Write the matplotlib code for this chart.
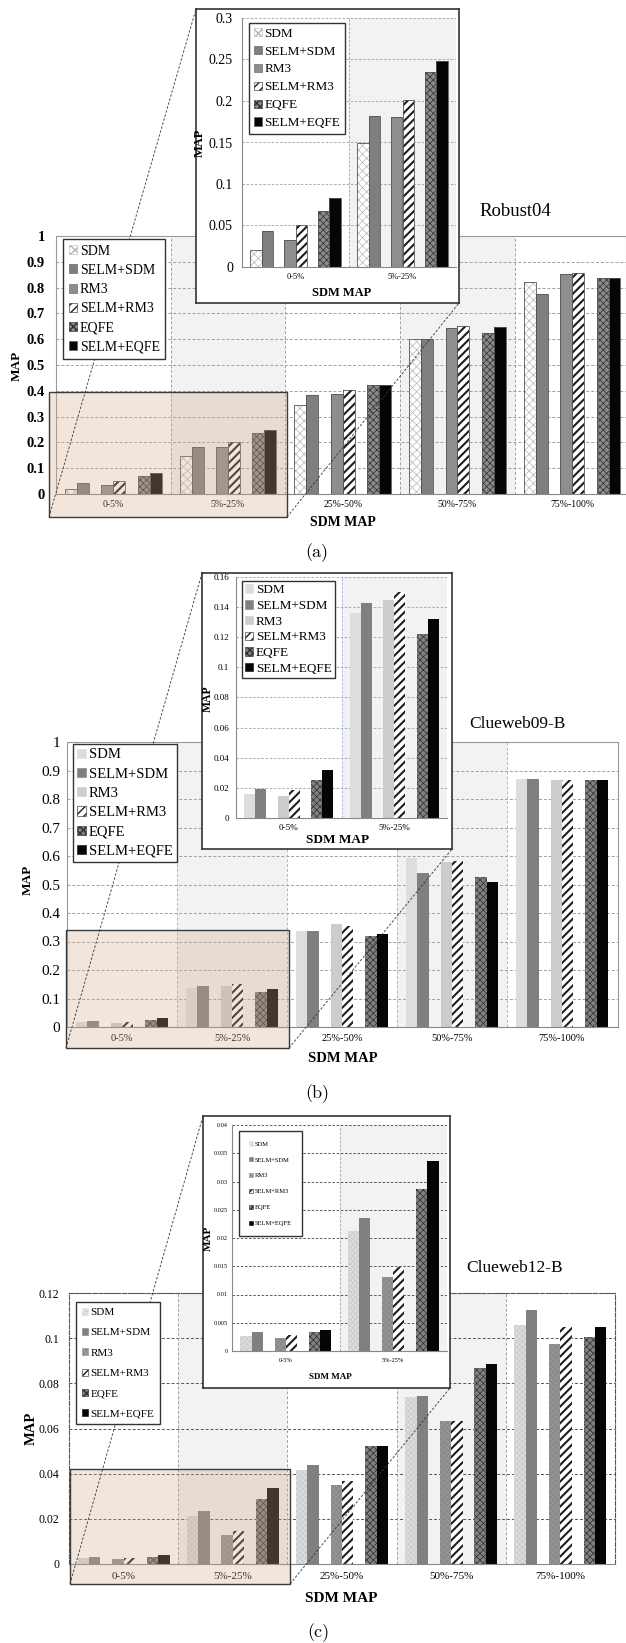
import numpy as np
import matplotlib
matplotlib.use("Agg")
import matplotlib.pyplot as plt
from matplotlib.patches import Patch, Rectangle
from matplotlib.lines import Line2D

plt.rcParams['font.family'] = ['Liberation Serif', 'DejaVu Serif']
plt.rcParams['hatch.linewidth'] = 1.0

# --- data (MAP per SDM-MAP bucket) ---
series = ["SDM", "SELM+SDM", "RM3", "SELM+RM3", "EQFE", "SELM+EQFE"]
groups = ["0-5%", "5%-25%", "25%-50%", "50%-75%", "75%-100%"]

robust_sdm = [0.021, 0.149, 0.346, 0.601, 0.821]
robust_selm_sdm = [0.043, 0.182, 0.385, 0.601, 0.774]
robust_rm3 = [0.033, 0.181, 0.389, 0.643, 0.852]
robust_selm_rm3 = [0.050, 0.201, 0.404, 0.650, 0.855]
robust_eqfe = [0.068, 0.235, 0.423, 0.625, 0.836]
robust_selm_eqfe = [0.083, 0.248, 0.421, 0.647, 0.836]

cw09_sdm = [0.0159, 0.136, 0.336, 0.593, 0.871]
cw09_selm_sdm = [0.0195, 0.1427, 0.336, 0.540, 0.871]
cw09_rm3 = [0.0147, 0.145, 0.361, 0.578, 0.868]
cw09_selm_rm3 = [0.0183, 0.150, 0.356, 0.583, 0.868]
cw09_eqfe = [0.0254, 0.122, 0.321, 0.526, 0.868]
cw09_selm_eqfe = [0.0316, 0.132, 0.325, 0.510, 0.868]

cw12_sdm = [0.00264, 0.02126, 0.0418, 0.0738, 0.1057]
cw12_selm_sdm = [0.00328, 0.0235, 0.0440, 0.0745, 0.1126]
cw12_rm3 = [0.00223, 0.01306, 0.0348, 0.0632, 0.0976]
cw12_selm_rm3 = [0.00281, 0.01482, 0.0366, 0.0632, 0.1048]
cw12_eqfe = [0.00328, 0.0287, 0.0524, 0.0866, 0.1005]
cw12_selm_eqfe = [0.0038, 0.03356, 0.0524, 0.0886, 0.1049]

robust_yticks = [0, 0.1, 0.2, 0.3, 0.4, 0.5, 0.6, 0.7, 0.8, 0.9, 1]
robust_inset_yticks = [0, 0.05, 0.1, 0.15, 0.2, 0.25, 0.3]
cw09_yticks = [0, 0.1, 0.2, 0.3, 0.4, 0.5, 0.6, 0.7, 0.8, 0.9, 1]
cw09_inset_yticks = [0, 0.02, 0.04, 0.06, 0.08, 0.1, 0.12, 0.14, 0.16]
cw12_yticks = [0, 0.02, 0.04, 0.06, 0.08, 0.1, 0.12]
cw12_inset_yticks = [0, 0.005, 0.01, 0.015, 0.02, 0.025, 0.03, 0.035, 0.04]

# --- layout helpers (pixel coords, origin top-left) ---
W, H = 626, 1643
fig = plt.figure(figsize=(W / 100, H / 100), dpi=100)


def frect(l, t, r, b):
    return [l / W, 1 - b / H, (r - l) / W, (b - t) / H]


def fpt(x, y):
    return (x / W, 1 - y / H)


def ftext(x, y, s, **kw):
    fig.text(x / W, 1 - y / H, s, ha='center', va='center', **kw)


OFFSETS = [-0.369, -0.265, -0.052, 0.052, 0.265, 0.369]
BAR_W = 0.104
DASH = (0, (3, 2))

SELM_RM3 = dict(fc='white', hatch='////', hc='#1e1e1e', hlw=1.5)
STY_A = [dict(fc='white', hatch='xxxx', hc='#b5b5b5', hlw=0.5),
         dict(fc='#7f7f7f'),
         dict(fc='#8e8e8e'),
         SELM_RM3,
         dict(fc='#8a8a8a', hatch='xxxxx', hc='#2e2e2e', hlw=0.5),
         dict(fc='#050505')]
STY_B = [dict(fc='#dddddd'),
         dict(fc='#808080'),
         dict(fc='#cccccc'),
         SELM_RM3,
         dict(fc='#808080', hatch='xxxxx', hc='#2e2e2e', hlw=0.5),
         dict(fc='#050505')]
STY_C = [dict(fc='#cfcfcf', hatch='xxxxxx', hc='#e6e6e6', hlw=0.4),
         dict(fc='#808080'),
         dict(fc='#8a8a8a', hatch='xxxxxx', hc='#9c9c9c', hlw=0.4),
         SELM_RM3,
         dict(fc='#808080', hatch='xxxxx', hc='#2e2e2e', hlw=0.5),
         dict(fc='#050505')]


def draw_bars(ax, vals, styles, n, edge):
    x = np.arange(n) + 0.5
    for k, (v, st) in enumerate(zip(vals, styles)):
        pos = x + OFFSETS[k]
        h = v[:n]
        ax.bar(pos, h, BAR_W, color=st['fc'], linewidth=0, zorder=2)
        if 'hatch' in st:
            with plt.rc_context({'hatch.linewidth': st['hlw']}):
                bars = ax.bar(pos, h, BAR_W, color='none', edgecolor=st['hc'],
                              hatch=st['hatch'], linewidth=0, zorder=2.1)
            for b in bars:
                if hasattr(b, 'set_hatch_linewidth'):
                    b.set_hatch_linewidth(st['hlw'])
        if edge:
            ax.bar(pos, h, BAR_W, color='none', edgecolor=edge, linewidth=0.6, zorder=2.2)


def fmt(v):
    return f"{round(v, 4):g}"


def legend(ax, styles, edge, x, y, fs, ls, bp):
    handles = []
    for st in styles:
        if 'hatch' in st:
            handles.append(Patch(facecolor=st['fc'], edgecolor=st['hc'], hatch=st['hatch'], linewidth=0.4))
        else:
            handles.append(Patch(facecolor=st['fc'], edgecolor=edge or st['fc'], linewidth=0.4))
    leg = ax.legend(handles, series, loc='upper left', bbox_to_anchor=fpt(x, y),
                    bbox_transform=fig.transFigure, fontsize=fs, labelspacing=ls,
                    borderpad=bp, handlelength=0.6, handleheight=0.6, handletextpad=0.2,
                    fancybox=False, framealpha=1, borderaxespad=0)
    leg.get_frame().set_edgecolor('#333333')
    leg.get_frame().set_linewidth(1.0)
    leg.set_zorder(20)


def panel(vals, styles, c):
    n = len(groups)
    l, t, r, b = c['main']
    ax = fig.add_axes(frect(l, t, r, b))
    ax.set_xlim(0, (r - l) / c['gw'])
    ax.set_ylim(0, c['yticks'][-1])
    for g in (1, 3):
        ax.axvspan(g, g + 1, color='#f2f2f2', lw=0, zorder=0)
    for v in c['yticks'][1:]:
        ax.axhline(v, color=c['hgrid'], lw=0.7, ls=DASH, zorder=0.5)
    for g in range(1, n):
        ax.axvline(g, color=c['vgrid'], lw=0.7, ls=DASH, zorder=0.5)
    draw_bars(ax, vals, styles, n, c['edge'])
    ax.set_yticks(c['yticks'], [fmt(v) for v in c['yticks']],
                  fontsize=c['tfs'], fontweight=c['tfw'])
    ax.set_xticks(np.arange(n) + 0.5, groups, fontsize=c['xfs'])
    ax.tick_params(axis='y', length=0, pad=c['ypad'])
    ax.tick_params(axis='x', length=0, pad=c['xpad'])
    for s in ax.spines.values():
        s.set_color('#999999')
        s.set_linewidth(0.8)
    if c.get('dashed_frame'):
        for s in ('left', 'top', 'right'):
            ax.spines[s].set_linestyle('--')
            ax.spines[s].set_color('#555555')
    ax.spines['bottom'].set_color('#888888')

    ftext(*c['ylabel'][:2], 'MAP', rotation=90, fontsize=c['ylabel'][2], fontweight='bold')
    ftext(*c['xlabel'][:2], 'SDM MAP', fontsize=c['xlabel'][2], fontweight='bold')
    ftext(*c['title'][1:3], c['title'][0], fontsize=c['title'][3])
    ftext(*c['caption'][1:], c['caption'][0], fontsize=13, family='cmr10')
    legend(ax, styles, c['edge'], *c['legend'])

    # zoom box over the two low buckets
    bl, bt, br, bb = c['box']
    ax.add_patch(Rectangle(fpt(bl, bb), (br - bl) / W, (bb - bt) / H, transform=fig.transFigure,
                           facecolor=(0.83, 0.67, 0.54, 0.3), edgecolor='#3a3a3a',
                           linewidth=1.0, clip_on=False, zorder=10))
    for (x1, y1), (x2, y2) in c['lines']:
        ax.add_line(Line2D([x1 / W, x2 / W], [1 - y1 / H, 1 - y2 / H], transform=fig.transFigure,
                           color='#333333', lw=0.6, ls=DASH, clip_on=False, zorder=11))

    # inset
    fr = fig.add_axes(frect(*c['frame']))
    fr.set_xticks([])
    fr.set_yticks([])
    fr.set_facecolor('white')
    for s in fr.spines.values():
        s.set_color('#333333')
        s.set_linewidth(1.2)

    l, t, r, b = c['inset']
    ia = fig.add_axes(frect(l, t, r, b))
    ia.patch.set_alpha(0)
    ia.set_xlim(0, 2)
    ia.set_ylim(0, c['iyticks'][-1])
    ia.axvspan(1, 2, color='#f2f2f2', lw=0, zorder=0)
    for v in c['iyticks'][1:]:
        ia.axhline(v, color=c['ihgrid'], lw=0.6, ls=DASH, zorder=0.5)
    for g in (1, 2):
        ia.axvline(g, color=c['vgrid'], lw=0.6, ls=DASH, zorder=0.5)
    draw_bars(ia, vals, styles, 2, c['edge'])
    ia.set_yticks(c['iyticks'], [fmt(v) for v in c['iyticks']], fontsize=c['itfs'])
    ia.set_xticks(np.arange(2) + 0.5, groups[:2], fontsize=c['ixfs'])
    ia.tick_params(axis='y', length=0, pad=c['iypad'])
    ia.tick_params(axis='x', length=0, pad=c['ixpad'])
    for s in ('top', 'right'):
        ia.spines[s].set_visible(False)
    for s in ('left', 'bottom'):
        ia.spines[s].set_color('#888888')
        ia.spines[s].set_linewidth(0.8)
    ftext(*c['iylabel'][:2], 'MAP', rotation=90, fontsize=c['iylabel'][2], fontweight='bold')
    ftext(*c['ixlabel'][:2], 'SDM MAP', fontsize=c['ixlabel'][2], fontweight='bold')
    legend(ia, styles, c['edge'], *c['ilegend'])


cfg_a = dict(main=(56, 236, 626, 494), gw=114.7, yticks=robust_yticks, tfs=10.5, tfw='bold',
             ypad=8, xfs=7, xpad=4.5, hgrid='#a0a0a0', vgrid='#a0a0a0', edge='#555555',
             ylabel=(17, 366, 9.5), xlabel=(343, 523, 10), title=('Robust04', 515, 211, 13.5),
             caption=('(a)', 317, 553), legend=(63, 239, 10, 0.45, 0.4),
             box=(49, 392, 287, 517), lines=[((49, 517), (196, 9)), ((287, 517), (459, 303))],
             frame=(196, 9, 459, 303), inset=(242, 18, 456, 267), iyticks=robust_inset_yticks,
             itfs=10, iypad=6.5, ixfs=6, ixpad=4, ihgrid='#a0a0a0',
             iylabel=(200, 143, 9), ixlabel=(342, 293, 9), ilegend=(249, 23, 9.5, 0.45, 0.35))

cfg_b = dict(main=(67, 742, 618, 1027), gw=110, yticks=cw09_yticks, tfs=11, tfw='normal',
             ypad=5, xfs=7.5, xpad=5, hgrid='#a0a0a0', vgrid='#9fb8df', edge=None,
             ylabel=(28, 880, 9.5), xlabel=(343, 1058, 10.5), title=('Clueweb09-B', 517, 724, 12.5),
             caption=('(b)', 317, 1094), legend=(73, 744, 10.5, 0.43, 0.3),
             box=(66, 930, 289, 1048), lines=[((66, 1048), (202, 573)), ((289, 1048), (452, 849))],
             frame=(202, 573, 452, 849), inset=(236, 577, 447, 818), iyticks=cw09_inset_yticks,
             itfs=6.5, iypad=5, ixfs=6.6, ixpad=4, ihgrid='#a0a0a0',
             iylabel=(208, 699, 8.5), ixlabel=(338, 840, 9.5), ilegend=(242, 581, 9.5, 0.28, 0.25))

cfg_c = dict(main=(69, 1293, 615, 1564), gw=109.2, yticks=cw12_yticks, tfs=8.5, tfw='normal',
             ypad=7, xfs=8, xpad=5.5, hgrid='#555555', vgrid='#a0a0a0', edge=None, dashed_frame=True,
             ylabel=(31, 1428, 10.5), xlabel=(341, 1598, 11), title=('Clueweb12-B', 515, 1268, 12.5),
             caption=('(c)', 318, 1633), legend=(76, 1302, 8, 0.98, 0.5),
             box=(70, 1469, 290, 1584), lines=[((70, 1584), (203, 1116)), ((290, 1584), (450, 1388))],
             frame=(203, 1116, 450, 1388), inset=(232, 1125, 447, 1351), iyticks=cw12_inset_yticks,
             itfs=4.5, iypad=3, ixfs=4.6, ixpad=5, ihgrid='#444444',
             iylabel=(208, 1238, 8), ixlabel=(330, 1377, 6.5), ilegend=(239, 1131, 4.7, 1.6, 1.6))

panel([robust_sdm, robust_selm_sdm, robust_rm3, robust_selm_rm3, robust_eqfe, robust_selm_eqfe],
      STY_A, cfg_a)
panel([cw09_sdm, cw09_selm_sdm, cw09_rm3, cw09_selm_rm3, cw09_eqfe, cw09_selm_eqfe],
      STY_B, cfg_b)
panel([cw12_sdm, cw12_selm_sdm, cw12_rm3, cw12_selm_rm3, cw12_eqfe, cw12_selm_eqfe],
      STY_C, cfg_c)

fig.savefig("out.png", dpi=100)
